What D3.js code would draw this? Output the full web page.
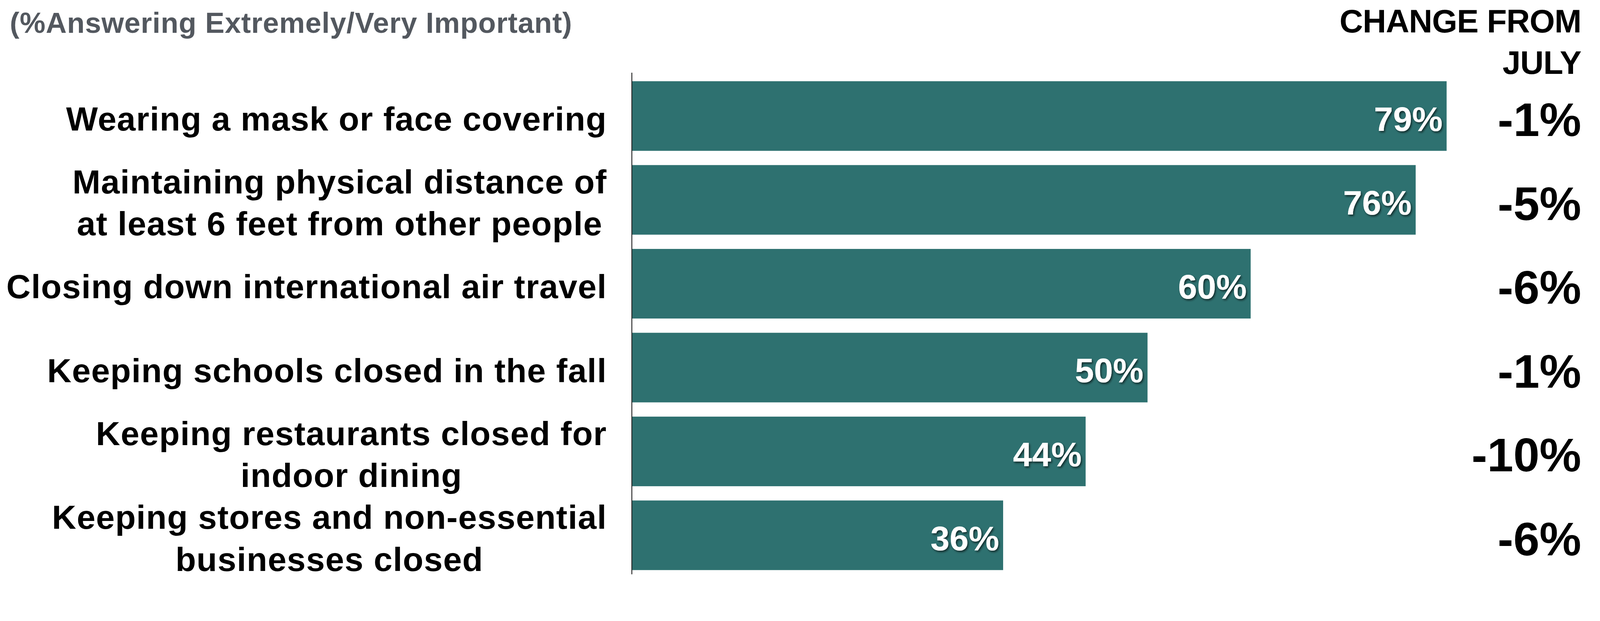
<!DOCTYPE html>
<html>
<head>
<meta charset="utf-8">
<script src="https://cdn.jsdelivr.net/npm/d3@7"></script>
<style>
  html, body { margin: 0; padding: 0; background: #fff; overflow: hidden; }
  svg { display: block; width: 100vw; height: 100vh; }
  text { font-family: "Liberation Sans Narrow", "Liberation Sans", sans-serif; font-weight: bold; }
</style>
</head>
<body>
<div class="container"></div>
<script>
const categories = [
  "Wearing a mask or face covering",
  "Maintaining physical distance of\nat least 6 feet from other people",
  "Closing down international air travel",
  "Keeping schools closed in the fall",
  "Keeping restaurants closed for\nindoor dining",
  "Keeping stores and non-essential\nbusinesses closed"
]
const values = [79, 76, 60, 50, 44, 36]
const changes = [-1, -5, -6, -1, -10, -6]
const subtitle = "(%Answering Extremely/Very Important)"
const changeTitle = ["CHANGE FROM", "JULY"]

const w = 4429
const h = 1589
const x0 = 1749
const labelRight = 1680
const changeRight = 4377
const barColor = "#2e7170"
const labelSize = 93
const capRatio = 0.716
const lineGap = 116

const svg = d3.select(".container")
              .append("svg")
              .attr("viewBox", "0 0 " + w + " " + h)
              .attr("preserveAspectRatio", "xMidYMin meet")

const defs = svg.append("defs")
defs.append("filter")
    .attr("id", "shadow")
    .attr("x", "-20%").attr("y", "-20%")
    .attr("width", "140%").attr("height", "150%")
  .append("feDropShadow")
    .attr("dx", 3).attr("dy", 4)
    .attr("stdDeviation", 3)
    .attr("flood-color", "#000")
    .attr("flood-opacity", 0.6)

const xScale = d3.scaleLinear()
                 .domain([0, 100])
                 .range([x0, x0 + 2855])

const yScale = d3.scaleBand()
                 .domain(d3.range(categories.length))
                 .range([205, 205 + 232 * categories.length])
                 .paddingInner(0.17)
                 .paddingOuter(0.085)

// bars
svg.selectAll("rect.bar")
   .data(values)
   .enter()
   .append("rect")
   .attr("class", "bar")
   .attr("x", xScale(0))
   .attr("y", (d, i) => yScale(i))
   .attr("width", d => xScale(d) - xScale(0))
   .attr("height", yScale.bandwidth())
   .attr("fill", barColor)

// axis line
const yAxis = d3.axisLeft(yScale).tickSize(0).tickFormat("")
const axisG = svg.append("g")
   .attr("transform", "translate(" + x0 + ",0)")
   .call(yAxis)
axisG.select(".domain")
   .attr("d", "M0,201V" + h)
   .attr("stroke", "#222")
   .attr("stroke-width", 2.5)

const mid = i => yScale(i) + yScale.bandwidth() / 2

// value labels inside bars
svg.selectAll("text.val")
   .data(values)
   .enter()
   .append("text")
   .attr("class", "val")
   .attr("x", d => xScale(d) - 11)
   .attr("y", (d, i) => mid(i) + 7 + 95 * capRatio / 2)
   .attr("text-anchor", "end")
   .attr("font-size", 95)
   .attr("fill", "#fff")
   .attr("filter", "url(#shadow)")
   .text(d => d + "%")

// category labels, each block right aligned, lines centred in the block
categories.forEach((c, i) => {
  const lines = c.split("\n")
  const g = svg.append("g")
  const n = lines.length
  const texts = g.selectAll("text")
     .data(lines)
     .enter()
     .append("text")
     .attr("font-size", labelSize)
     .attr("letter-spacing", 1.5)
     .attr("fill", "#000")
     .attr("y", (d, j) => mid(i) + 7 + labelSize * capRatio / 2 + (j - (n - 1) / 2) * lineGap)
     .text(d => d)
  let maxW = 0
  texts.each(function(){ maxW = Math.max(maxW, this.getComputedTextLength()) })
  texts.attr("text-anchor", "middle")
       .attr("x", labelRight - maxW / 2)
})

// change column
svg.selectAll("text.chg")
   .data(changes)
   .enter()
   .append("text")
   .attr("class", "chg")
   .attr("x", changeRight)
   .attr("y", (d, i) => mid(i) + 9 + 130 * capRatio / 2)
   .attr("text-anchor", "end")
   .attr("font-size", 130)
   .attr("fill", "#000")
   .text(d => d + "%")

svg.selectAll("text.chgTitle")
   .data(changeTitle)
   .enter()
   .append("text")
   .attr("class", "chgTitle")
   .attr("x", changeRight)
   .attr("y", (d, i) => 90 + i * 114)
   .attr("text-anchor", "end")
   .attr("font-size", 90)
   .attr("letter-spacing", -1)
   .attr("fill", "#000")
   .text(d => d)

svg.append("text")
   .attr("x", 27)
   .attr("y", 91)
   .attr("font-size", 80)
   .attr("letter-spacing", 1)
   .attr("fill", "#53585f")
   .text(subtitle)
</script>
</body>
</html>
